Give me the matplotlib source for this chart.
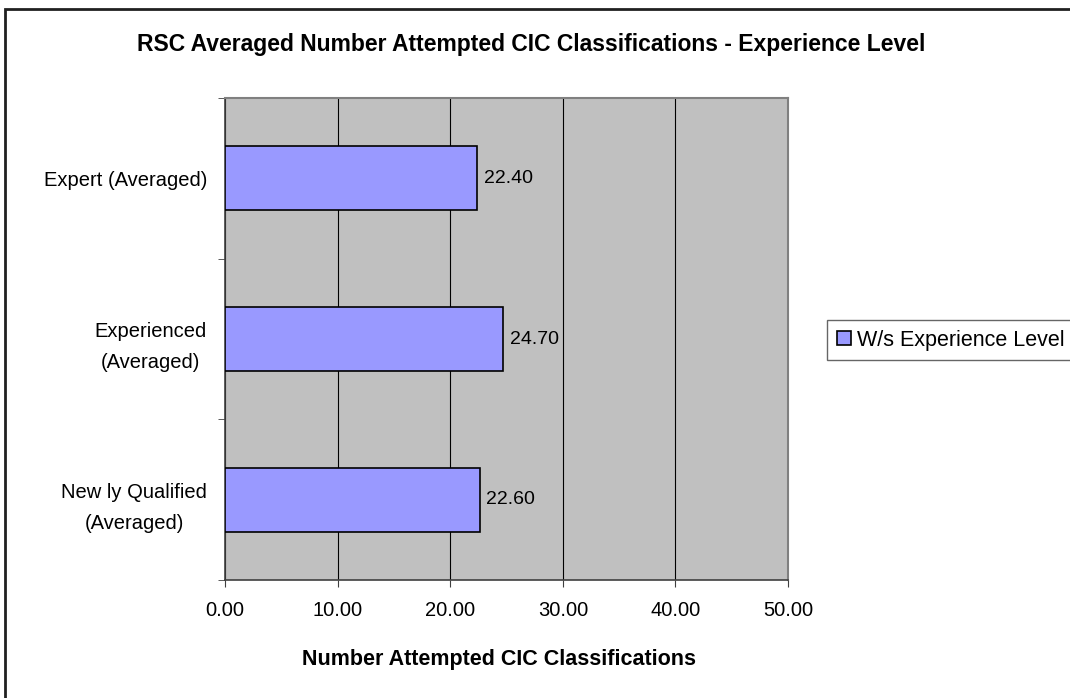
import matplotlib.pyplot as plt
from matplotlib.patches import Rectangle

plt.rcParams["font.family"] = ["Liberation Sans", "DejaVu Sans"]

categories = ["New ly Qualified\n(Averaged)", "Experienced\n(Averaged)", "Expert (Averaged)"]
values = [22.60, 24.70, 22.40]
x_ticks = [0, 10, 20, 30, 40, 50]
series_name = "W/s Experience Level"

fig = plt.figure(figsize=(10.7, 6.98), dpi=100)
ax = fig.add_axes([0.2103, 0.169, 0.5262, 0.6906])
ax.set_facecolor("#C0C0C0")

pos = list(range(len(categories)))
ax.barh(pos, values, height=0.4, color="#9999FF", edgecolor="black",
        linewidth=1.2, label=series_name, zorder=3)
for p, v in zip(pos, values):
    ax.text(v + 0.6, p, f"{v:.2f}", va="center", ha="left", fontsize=14, zorder=4)

ax.set_xlim(0, 50)
ax.set_ylim(-0.5, len(categories) - 0.5)
ax.set_xticks(x_ticks)
ax.set_xticklabels([f"{t:.2f}" for t in x_ticks], fontsize=14.5)
ax.set_yticks(pos)
ax.set_yticklabels(categories, fontsize=14.5, ha="right", multialignment="center",
                   linespacing=1.8)
for lbl in ax.get_yticklabels():
    if "\n" in lbl.get_text():
        lbl.set_va("center_baseline")
ax.tick_params(axis="y", length=0, pad=13)
ax.set_yticks([-0.5, 0.5, 1.5, 2.5], minor=True)
ax.tick_params(axis="y", which="minor", length=5, color="#404040")
ax.tick_params(axis="x", length=5, color="#404040", pad=10)
ax.grid(axis="x", color="black", linewidth=0.8, zorder=1)

for s in ["left", "bottom"]:
    ax.spines[s].set_color("#404040")
    ax.spines[s].set_linewidth(1.2)
for s in ["top", "right"]:
    ax.spines[s].set_color("#808080")
    ax.spines[s].set_linewidth(1.5)

fig.text(499 / 1070, 1 - 659 / 698, "Number Attempted CIC Classifications",
         fontsize=15.5, fontweight="bold", ha="center", va="center")
fig.text(531 / 1070, 1 - 45 / 698,
         "RSC Averaged Number Attempted CIC Classifications - Experience Level",
         fontsize=16.5, fontweight="bold", ha="center", va="center")

leg = fig.legend(loc="upper left", bbox_to_anchor=(827 / 1070, 1 - 320 / 698),
                 fontsize=15.5, frameon=True, fancybox=False, handlelength=0.65,
                 handleheight=0.65, handletextpad=0.3, borderpad=0.45,
                 borderaxespad=0)
leg.get_frame().set_edgecolor("#404040")
leg.get_frame().set_linewidth(1.0)

fig.patches.append(Rectangle((0.0047, -0.1), 1.2, 1.087, transform=fig.transFigure,
                             fill=False, edgecolor="#202020", linewidth=2))

fig.savefig("out.png", dpi=100)
